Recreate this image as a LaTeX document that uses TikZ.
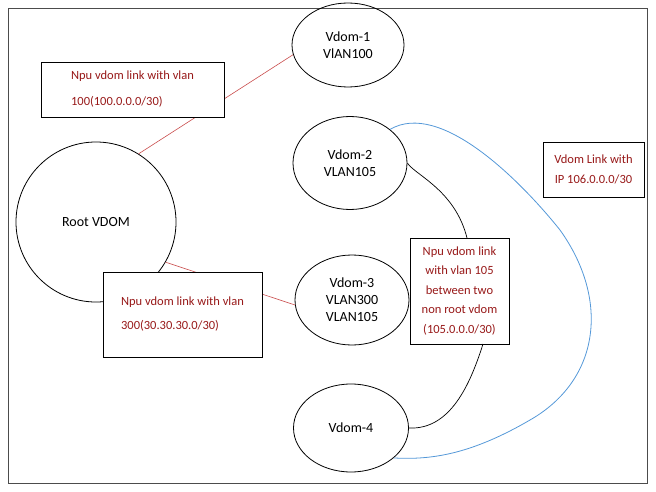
\documentclass[tikz,border=0pt]{standalone}
\usepackage{fontspec}
\setmainfont{Carlito}
\usetikzlibrary{shapes.geometric}
\begin{document}
\begin{tikzpicture}[x=1pt,y=-1pt,
  vd/.style={draw,ellipse,line width=0.8pt,inner sep=0pt,align=center,font=\fontsize{14}{17}\selectfont},
  lb/.style={draw,fill=white,line width=0.6pt,inner sep=4pt,align=left,text=red!55!black!90,font=\fontsize{12.5}{26}\selectfont},
  rl/.style={draw=red!70!black!70,line width=0.6pt},
  bl/.style={draw=black,line width=0.7pt},
  cy/.style={draw=cyan!60!blue!70,line width=0.8pt}]
\useasboundingbox (0,0) rectangle (656,492);
\draw[line width=0.6pt,draw=black!70] (8,8) rectangle (647,483);
\node[draw,circle,minimum size=160pt,line width=0.8pt,font=\fontsize{14}{17}\selectfont] (root) at (96,222) {Root VDOM};
\node[vd,minimum width=112pt,minimum height=84pt] (v1) at (348,45) {Vdom-1\\VlAN100};
\node[vd,minimum width=114pt,minimum height=93pt] (v2) at (350,163) {Vdom-2\\VLAN105};
\node[vd,minimum width=114pt,minimum height=90pt] (v3) at (352,300) {Vdom-3\\VLAN300\\VLAN105};
\node[vd,minimum width=115pt,minimum height=88pt] (v4) at (351,428) {Vdom-4};
\draw[rl] (root.58) -- (v1.190);
\draw[rl] (root.-30) -- (v3.185);
\node[lb,minimum width=183pt,minimum height=55pt] (b1) at (132.5,89.5) {Npu vdom link with vlan\\100(100.0.0.0/30)};
\node[lb,minimum width=159pt,minimum height=85pt,font=\fontsize{12.5}{24}\selectfont] (b2) at (182.5,314.5) {Npu vdom link with vlan\\300(30.30.30.0/30)};
\node[lb,align=center,minimum width=99pt,minimum height=106pt,inner sep=2pt,font=\fontsize{12.5}{19.5}\selectfont] (b3) at (459.5,291) {Npu vdom link\\with vlan 105\\between two\\non root vdom\\(105.0.0.0/30)};
\node[lb,align=center,minimum width=101pt,minimum height=55pt,font=\fontsize{12.5}{20}\selectfont] (b4) at (593.5,169.5) {Vdom Link with\\IP 106.0.0.0/30};
\coordinate (t3) at (467,238);
\coordinate (u3) at (483,344);
\draw[bl] (v2.east) .. controls (415,175) and (455,190) .. (t3);
\draw[bl] (u3) .. controls (470,385) and (450,430) .. (v4.east);
\draw[cy] (v2.40) .. controls (440,100) and (520,180) .. (560,230) .. controls (610,300) and (600,380) .. (530,420) .. controls (470,455) and (430,460) .. (v4.-35);
\end{tikzpicture}
\end{document}
